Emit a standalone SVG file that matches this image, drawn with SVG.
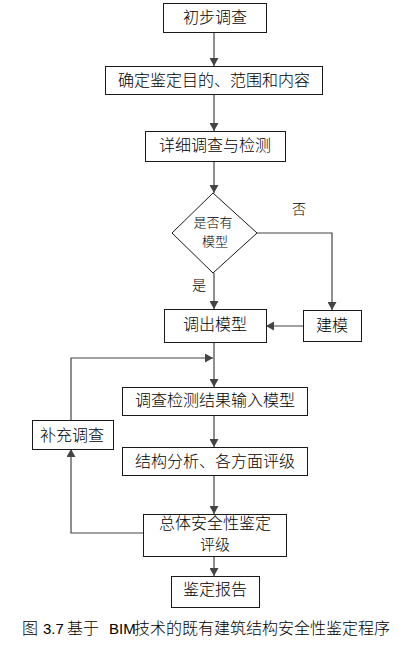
<svg xmlns="http://www.w3.org/2000/svg" width="413" height="656" viewBox="0 0 413 656">
<style>
.box{fill:#fff;stroke:#1a1a1a;stroke-width:1}
.t{font-family:"Noto Sans CJK SC","Liberation Sans",sans-serif;font-size:16px;font-weight:300;fill:#000;text-anchor:middle}
.s{font-size:14px}
.d{font-size:13px}
.m{font-size:15px}
.c{stroke:#444;stroke-width:1.2;fill:none}
.lat{font-family:"Liberation Sans","Noto Sans CJK SC",sans-serif}
</style>
<defs>
<marker id="ah" markerUnits="userSpaceOnUse" markerWidth="9" markerHeight="9" refX="8" refY="4.5" orient="auto">
<path d="M0,0 L8,4.5 L0,9 z" fill="#444"/>
</marker>
</defs>
<rect width="413" height="656" fill="#fff"/>
<g id="connectors">
<line class="c" x1="214" y1="32" x2="214" y2="66" marker-end="url(#ah)"/>
<line class="c" x1="214" y1="94" x2="214" y2="131" marker-end="url(#ah)"/>
<line class="c" x1="214" y1="161" x2="214" y2="193" marker-end="url(#ah)"/>
<line class="c" x1="214" y1="273" x2="214" y2="309" marker-end="url(#ah)"/>
<polyline class="c" points="257,233 332,233 332,310" marker-end="url(#ah)"/>
<line class="c" x1="303" y1="326" x2="266" y2="326" marker-end="url(#ah)"/>
<line class="c" x1="214" y1="343" x2="214" y2="387" marker-end="url(#ah)"/>
<polyline class="c" points="71,420 71,358 213,358" marker-end="url(#ah)"/>
<line class="c" x1="214" y1="415" x2="214" y2="447" marker-end="url(#ah)"/>
<line class="c" x1="214" y1="475" x2="214" y2="514" marker-end="url(#ah)"/>
<polyline class="c" points="143,533 71,533 71,449" marker-end="url(#ah)"/>
<line class="c" x1="214" y1="556" x2="214" y2="576" marker-end="url(#ah)"/>
</g>
<g id="n1"><rect class="box" x="163.5" y="3.5" width="103" height="29"/><text class="t" x="215" y="23">初步调查</text></g>
<g id="n2"><rect class="box" x="105.5" y="66.5" width="217" height="28"/><text class="t" x="214" y="86">确定鉴定目的、范围和内容</text></g>
<g id="n3"><rect class="box" x="145.5" y="131.5" width="140" height="30"/><text class="t" x="215" y="151">详细调查与检测</text></g>
<g id="n4"><polygon class="box" points="213,193 257,233 213,273 172,233"/><text class="t d" x="213" y="227">是否有</text><text class="t d" x="215" y="246">模型</text></g>
<g id="lbl-no"><text class="t s" x="299" y="214">否</text></g>
<g id="lbl-yes"><text class="t s" x="199" y="290">是</text></g>
<g id="n5"><rect class="box" x="164.5" y="309.5" width="102" height="33"/><text class="t" x="215" y="330">调出模型</text></g>
<g id="n6"><rect class="box" x="303.5" y="310.5" width="58" height="31"/><text class="t" x="332" y="331">建模</text></g>
<g id="n7"><rect class="box" x="122.5" y="387.5" width="185" height="28"/><text class="t" x="215" y="406">调查检测结果输入模型</text></g>
<g id="n8"><rect class="box" x="32.5" y="420.5" width="81" height="29"/><text class="t" x="72" y="441">补充调查</text></g>
<g id="n9"><rect class="box" x="122.5" y="447.5" width="185" height="28"/><text class="t" x="215" y="467">结构分析、各方面评级</text></g>
<g id="n10"><rect class="box" x="143.5" y="514.5" width="143" height="42"/><text class="t" x="215" y="529">总体安全性鉴定</text><text class="t m" x="215" y="550">评级</text></g>
<g id="n11"><rect class="box" x="171.5" y="576.5" width="88" height="31"/><text class="t" x="215" y="595">鉴定报告</text></g>
<g id="caption" class="t" style="text-anchor:start">
<text x="22" y="634"><tspan>图</tspan><tspan class="lat" x="43" style="font-size:15px">3.7</tspan><tspan x="67">基于</tspan><tspan class="lat" x="109" style="font-size:15px">BIM</tspan><tspan x="134">技术的既有建筑结构安全性鉴定程序</tspan></text>
</g>
</svg>
